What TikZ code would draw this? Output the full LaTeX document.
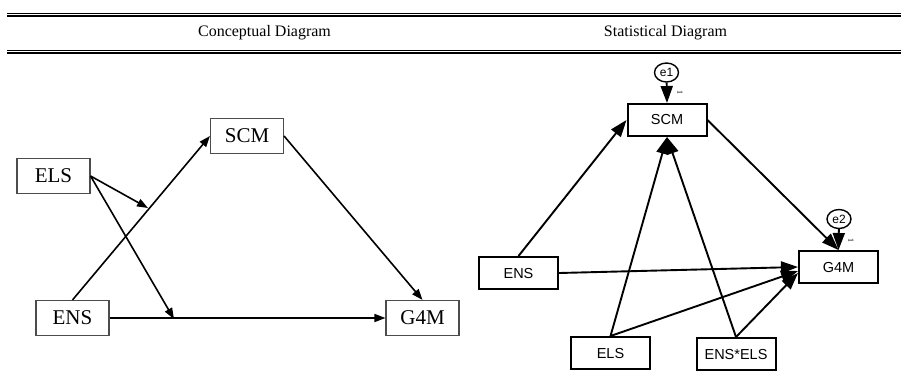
\documentclass[tikz,border=0pt]{standalone}
\usepackage{fontspec}
\setmainfont{Liberation Serif}
\setsansfont{Liberation Sans}
\usetikzlibrary{shapes,shapes.geometric,arrows.meta,calc}

\begin{document}
\begin{tikzpicture}[x=1pt,y=-1pt]
			\tikzstyle{cbox}=[rectangle,draw=black!70,line width=1.1pt,minimum width=73pt,minimum height=35pt,inner sep=0pt,font=\fontsize{21}{21}\selectfont]
			\tikzstyle{sbox}=[rectangle,draw,line width=2pt,minimum width=79pt,minimum height=32pt,inner sep=0pt,font=\sffamily\fontsize{14.5}{14.5}\selectfont]
			\tikzstyle{err}=[ellipse,draw,line width=1.4pt,minimum width=24pt,minimum height=19pt,inner sep=0pt,font=\sffamily\fontsize{12}{12}\selectfont]
			\tikzstyle{carrow}=[line width=1.6pt,-{Triangle[length=11pt,width=8pt]}]
			\tikzstyle{sarrow}=[line width=1.9pt,-{Triangle[length=17pt,width=12pt]}]
			\tikzstyle{one}=[rotate=-90,inner sep=0pt,font=\fontsize{8}{8}\selectfont]
			\useasboundingbox (0,0) rectangle (901,384);
			% table rules
			\draw[line width=1.2pt] (7,13.3) -- (901,13.3);
			\draw[line width=1.6pt] (7,15.9) -- (901,15.9);
			\draw[line width=1.2pt] (7,50.6) -- (901,50.6);
			\draw[line width=1.6pt] (7,53.2) -- (901,53.2);
			\node[font=\fontsize{16}{16}\selectfont] (chead) at (264.5,33) {Conceptual Diagram};
			\node[font=\fontsize{16}{16}\selectfont] (shead) at (665.5,33) {Statistical Diagram};
			% conceptual
			\node[cbox] (cels) at (53.5,176) {ELS};
			\node[cbox] (cscm) at (247,136) {SCM};
			\node[cbox] (cens) at (72.5,318) {ENS};
			\node[cbox] (cg4m) at (422.5,318) {G4M};
			\coordinate (ma) at (148,208);
			\coordinate (mb) at (174,319);
			\draw[carrow] (cens.north) -- (cscm.west);
			\draw[carrow] (cens.east) -- (cg4m.west);
			\draw[carrow] (cscm.east) -- (cg4m.north);
			\draw[carrow] (cels.east) -- (ma);
			\draw[carrow] (cels.east) -- (mb);
			% statistical
			\node[sbox] (sscm) at (667,120) {SCM};
			\node[sbox] (sens) at (518.5,273) {ENS};
			\node[sbox] (sg4m) at (838.5,267) {G4M};
			\node[sbox] (sels) at (610.5,353) {ELS};
			\node[sbox] (sint) at (736,354) {ENS*ELS};
			\node[err] (e1) at (666.5,72.5) {e1};
			\node[err] (e2) at (839,219) {e2};
			\draw[sarrow] (e1) -- (sscm.north);
			\draw[sarrow] (e2) -- (sg4m.north);
			\node[one] (one1) at (680,92) {1};
			\node[one] (one2) at (851,240) {1};
			\draw[sarrow] (sens.north) -- (sscm.west);
			\draw[sarrow] (sels.north) -- (sscm.south);
			\draw[sarrow] (sint.north) -- (sscm.south);
			\draw[sarrow] (sscm.east) -- (sg4m.north);
			\draw[sarrow] (sens.east) -- (sg4m.west);
			\draw[sarrow] (sels.north) -- ([yshift=-4pt]sg4m.west);
			\draw[sarrow] (sint.north) -- ([yshift=-6pt]sg4m.west);
		\end{tikzpicture}
\end{document}
